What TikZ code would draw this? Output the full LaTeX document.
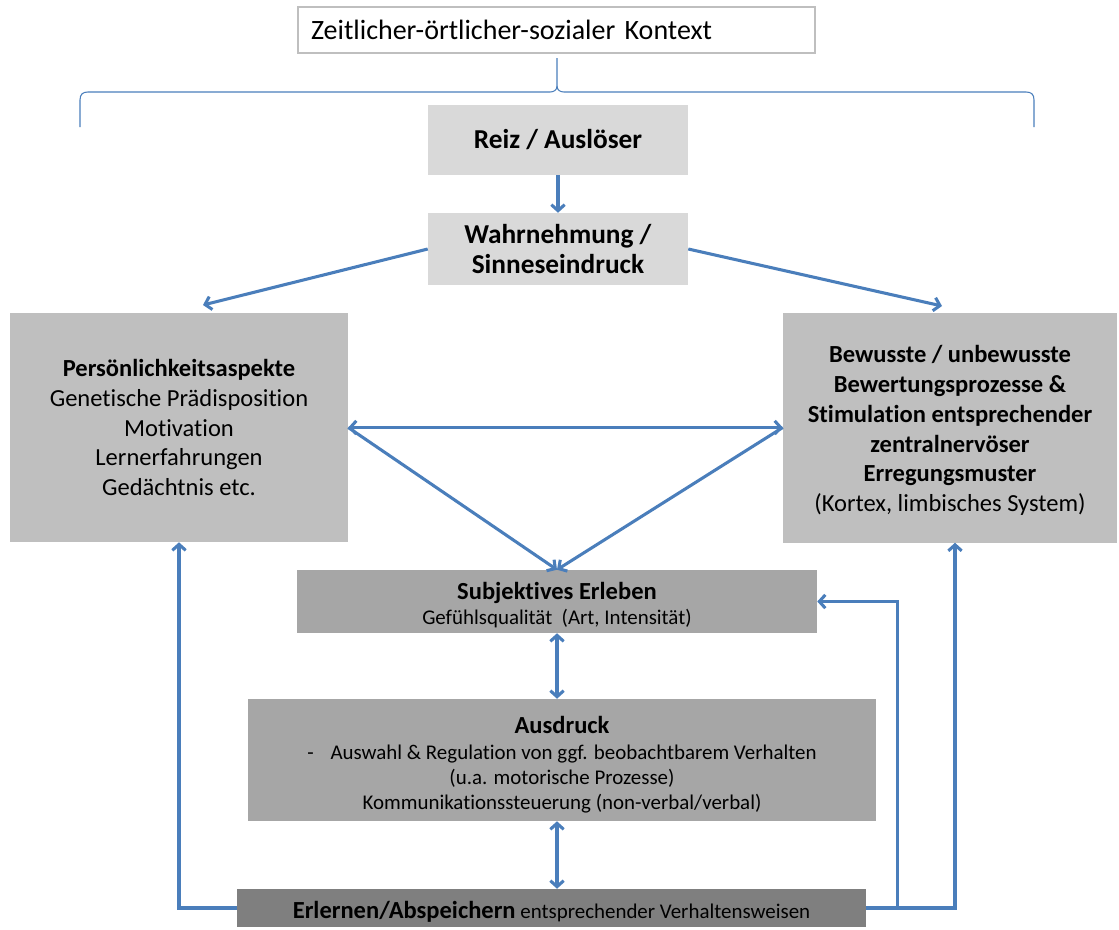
\documentclass[tikz,border=0pt]{standalone}
\usepackage{fontspec}
\setmainfont{Carlito}[Ligatures=NoCommon]
\usetikzlibrary{arrows.meta,calc}
\definecolor{arr}{HTML}{4A7EBB}
\definecolor{gA}{HTML}{D9D9D9}
\definecolor{gB}{HTML}{BFBFBF}
\definecolor{gC}{HTML}{A6A6A6}
\definecolor{gD}{HTML}{7F7F7F}
\newcommand{\bigb}[1]{{\fontsize{18.4}{19}\selectfont\textbf{#1}}}
\newcommand{\dn}[1]{\rule{0pt}{#1}}
\tikzset{
  box/.style={rectangle, inner sep=0pt, align=center, text=black},
  huge/.style={font=\fontsize{20.5}{22.5}\selectfont},
  big/.style={font=\fontsize{18.4}{22.3}\selectfont},
  small/.style={font=\fontsize{15.7}{19}\selectfont},
  conn/.style={draw=arr, line width=2.3pt, -{Straight Barb[length=4.5pt,width=10pt]}},
  dconn/.style={draw=arr, line width=2.3pt, {Straight Barb[length=4.5pt,width=10pt]}-{Straight Barb[length=4.5pt,width=10pt]}},
  bracel/.style={draw=arr, line width=0.8pt}
}
\begin{document}
\begin{tikzpicture}[x=0.75pt,y=-0.75pt]
\useasboundingbox (0,0) rectangle (1119,929);
% top context box
\node[box, font=\fontsize{21}{24}\selectfont, draw=gB, fill=white, line width=0.8pt, minimum width=387.75pt, minimum height=34.5pt, text width=368.25pt, align=left, inner xsep=9.75pt] (ctx) at (556.5,30) {Zeitlicher-örtlicher-sozialer Kontext};
% brace
\draw[bracel] (80,127) -- (80,100) .. controls (80,94) and (83,92) .. (88,92) -- (550,92) .. controls (554,92) and (557,90) .. (557,86) -- (557,58);
\draw[bracel] (557,86) .. controls (557,90) and (560,92) .. (564,92) -- (1026,92) .. controls (1031,92) and (1034,94) .. (1034,100) -- (1034,127);
% boxes
\node[box, huge, fill=gA, minimum width=195pt, minimum height=52.5pt] (reiz) at (558,140) {\textbf{Reiz / Auslöser}};
\node[box, huge, fill=gA, minimum width=195pt, minimum height=54pt] (wahr) at (558,249) {\textbf{Wahrnehmung /}\\\textbf{Sinneseindruck}};
\node[box, big, fill=gB, minimum width=253.5pt, minimum height=171.75pt] (pers) at (179,427.5) {\textbf{Persönlichkeitsaspekte}\\Genetische Prädisposition\\Motivation\\Lernerfahrungen\\Gedächtnis etc.};
\node[box, big, fill=gB, minimum width=250.5pt, minimum height=172.5pt] (bew) at (950,427.5) {\dn{17.5pt}\textbf{Bewusste / unbewusste}\\\textbf{Bewertungsprozesse \&}\\\textbf{Stimulation entsprechender}\\\textbf{zentralnervöser}\\\textbf{Erregungsmuster}\\(Kortex, limbisches System)};
\node[box, small, fill=gC, minimum width=390pt, minimum height=47.25pt] (subj) at (557,601.5) {\dn{18pt}\bigb{Subjektives Erleben}\\Gefühlsqualität~ (Art, Intensität)};
\node[box, small, fill=gC, minimum width=471pt, minimum height=91.5pt] (ausd) at (562,760) {\dn{20.5pt}\bigb{Ausdruck}\\-\hspace{0.8em}Auswahl \& Regulation von ggf. beobachtbarem Verhalten\\(u.a. motorische Prozesse)\\Kommunikationssteuerung (non-verbal/verbal)};
\node[box, small, fill=gD, minimum width=471.75pt, minimum height=28.5pt] (erl) at (551.5,908) {\dn{18.5pt}\bigb{Erlernen/Abspeichern} entsprechender Verhaltensweisen};
% free ends
\coordinate (pl) at (203,305);
\coordinate (pr) at (942,306);
% connectors
\draw[conn] (reiz.south) -- (wahr.north);
\draw[conn] (wahr.west) -- (pl);
\draw[conn] (wahr.east) -- (pr);
\draw[dconn] (pers.east) -- (bew.west);
\draw[conn] (pers.east) -- (subj.north);
\draw[conn] (bew.west) -- (subj.north);
\draw[dconn] (subj.south) -- (subj.south |- ausd.north);
\draw[dconn] (subj.south |- ausd.south) -- (subj.south |- erl.north);
\draw[conn] (erl.west) -| (pers.south);
\draw[conn] (erl.east) -| ($(bew.south)+(5,0)$);
\draw[conn] (erl.east) -- ++(31,0) |- (subj.east);
\end{tikzpicture}
\end{document}
